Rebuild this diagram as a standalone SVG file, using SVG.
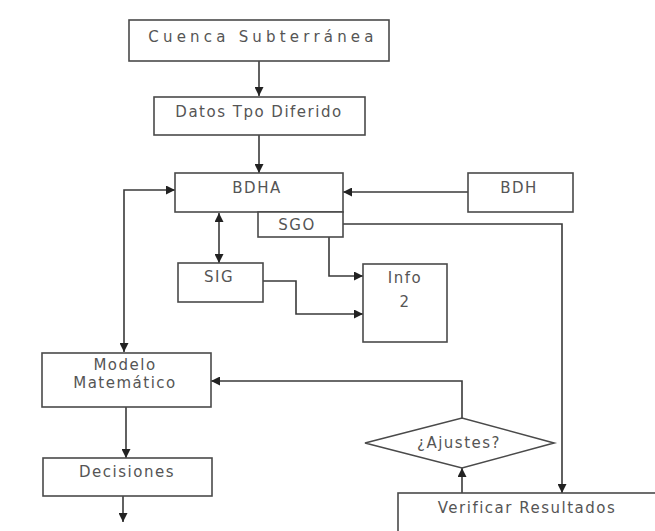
<svg xmlns="http://www.w3.org/2000/svg" width="655" height="531" viewBox="0 0 655 531">
  <style>
    .box { fill: #ffffff; stroke: #4a4a4a; stroke-width: 1.6; }
    .lbl { font-family: "DejaVu Sans", "Liberation Sans", sans-serif; font-size: 15px; fill: #555555; text-anchor: middle; letter-spacing: 1.5px; }
    .wide { font-family: "DejaVu Sans", "Liberation Sans", sans-serif; font-size: 15px; fill: #555555; text-anchor: middle; letter-spacing: 4.2px; }
    .con { fill: none; stroke: #3a3a3a; stroke-width: 1.6; }
  </style>
  <defs>
    <marker id="arr" viewBox="0 0 10 10" refX="10" refY="5" markerWidth="9" markerHeight="9" markerUnits="userSpaceOnUse" orient="auto-start-reverse">
      <path d="M0,0 L10,5 L0,10 Z" fill="#222222"/>
    </marker>
  </defs>
  <rect x="0" y="0" width="655" height="531" fill="#ffffff"/>

  <g id="connectors">
    <!-- Cuenca -> Datos -->
    <path class="con" d="M259,61 V96" marker-end="url(#arr)"/>
    <!-- Datos -> BDHA -->
    <path class="con" d="M259,135 V173" marker-end="url(#arr)"/>
    <!-- BDH -> BDHA -->
    <path class="con" d="M468,192 H343" marker-end="url(#arr)"/>
    <!-- BDHA <-> SIG -->
    <path class="con" d="M219,213 V263" marker-start="url(#arr)" marker-end="url(#arr)"/>
    <!-- BDHA <-> Modelo Matemático -->
    <path class="con" d="M175,190 H124 V352" marker-start="url(#arr)" marker-end="url(#arr)"/>
    <!-- SGO -> Info 2 -->
    <path class="con" d="M329,237 V276 H363" marker-end="url(#arr)"/>
    <!-- SIG -> Info 2 -->
    <path class="con" d="M263,281 H296 V314 H363" marker-end="url(#arr)"/>
    <!-- SGO -> Verificar Resultados -->
    <path class="con" d="M343,224 H562 V493" marker-end="url(#arr)"/>
    <!-- Verificar Resultados -> ¿Ajustes? -->
    <path class="con" d="M462,493 V468" marker-end="url(#arr)"/>
    <!-- ¿Ajustes? -> Modelo Matemático -->
    <path class="con" d="M462,418 V381 H211" marker-end="url(#arr)"/>
    <!-- Modelo -> Decisiones -->
    <path class="con" d="M126,407 V458" marker-end="url(#arr)"/>
    <!-- Decisiones -> out -->
    <path class="con" d="M123,496 V522" marker-end="url(#arr)"/>
  </g>

  <g id="cuenca">
    <rect class="box" x="129" y="20" width="260" height="41"/>
    <text class="wide" x="263" y="42">Cuenca Subterránea</text>
  </g>

  <g id="datos">
    <rect class="box" x="154" y="97" width="211" height="38"/>
    <text class="lbl" x="259" y="117">Datos Tpo Diferido</text>
  </g>

  <g id="bdha">
    <rect class="box" x="175" y="173" width="168" height="39"/>
    <text class="lbl" x="257" y="193">BDHA</text>
  </g>

  <g id="sgo">
    <rect class="box" x="258" y="212" width="85" height="25"/>
    <text class="lbl" x="297" y="230">SGO</text>
  </g>

  <g id="bdh">
    <rect class="box" x="468" y="173" width="105" height="39"/>
    <text class="lbl" x="519" y="193">BDH</text>
  </g>

  <g id="sig">
    <rect class="box" x="178" y="263" width="85" height="39"/>
    <text class="lbl" x="219" y="282">SIG</text>
  </g>

  <g id="info2">
    <rect class="box" x="363" y="264" width="84" height="78"/>
    <text class="lbl" x="405" y="283">Info</text>
    <text class="lbl" x="405" y="307">2</text>
  </g>

  <g id="modelo">
    <rect class="box" x="42" y="353" width="169" height="54"/>
    <text class="lbl" x="125" y="370">Modelo</text>
    <text class="lbl" x="125" y="388">Matemático</text>
  </g>

  <g id="decisiones">
    <rect class="box" x="43" y="458" width="169" height="38"/>
    <text class="lbl" x="127" y="477">Decisiones</text>
  </g>

  <g id="ajustes">
    <polygon class="box" points="365,443 462,418 554,443 462,468"/>
    <text class="lbl" x="459" y="448">¿Ajustes?</text>
  </g>

  <g id="verificar">
    <rect class="box" x="398" y="493" width="270" height="50"/>
    <text class="lbl" x="527" y="513">Verificar Resultados</text>
  </g>
</svg>
